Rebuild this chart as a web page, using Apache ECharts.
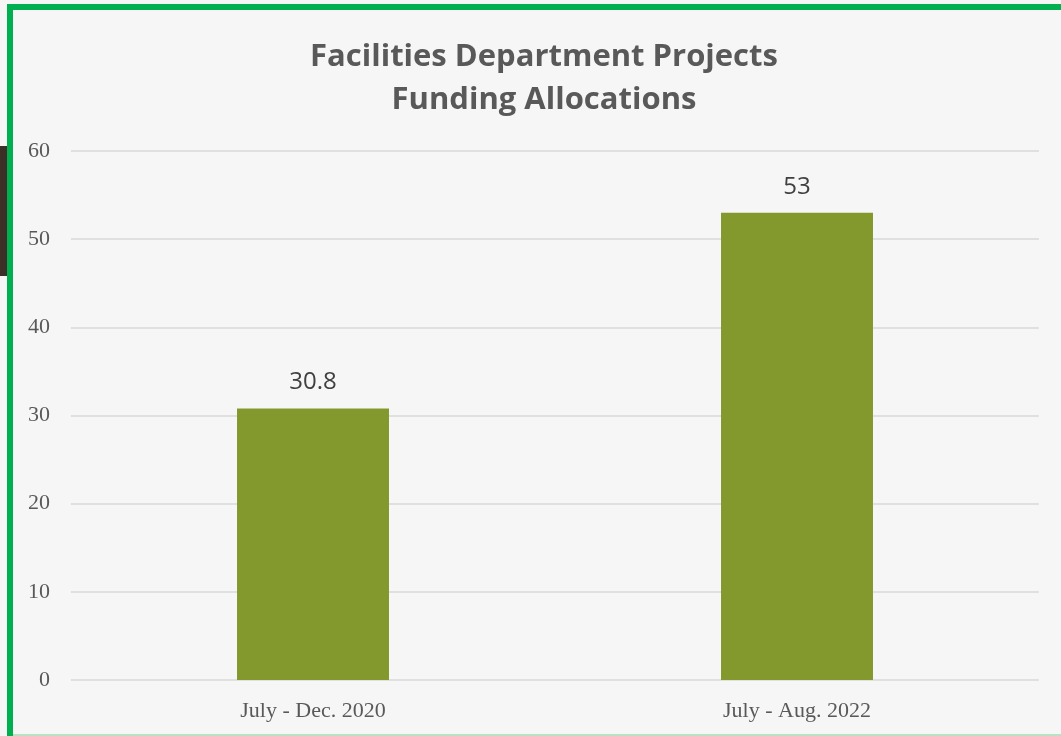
<!DOCTYPE html>
<html>
<head>
<meta charset="utf-8">
<script src="https://cdn.jsdelivr.net/npm/echarts@6/dist/echarts.min.js"></script>
<style>
  body { margin: 0; background: #f6f6f6; overflow: hidden; }
  #main { position: absolute; left: 0; top: 0; width: 1061px; height: 736px; }
  #frame { position: absolute; left: 7px; top: 4px; width: 1070px; height: 740px;
           border: 6px solid #00b050; pointer-events: none; box-sizing: border-box; }
  #bottomline { position: absolute; left: 13px; top: 734px; width: 1048px; height: 2px; background: #b5e3c4; }
  #strip { position: absolute; left: 0; top: 146px; width: 7px; height: 130px; background: #3b2f26; }
</style>
</head>
<body>
<div id="main"></div>
<div id="strip"></div>
<div id="frame"></div>
<div id="bottomline"></div>
<script>
var categories = ["July - Dec. 2020", "July - Aug. 2022"];
var funding = [30.8, 53];
var titleLines = ["Facilities Department Projects", "Funding Allocations"];

var myChart = echarts.init(document.getElementById("main"));
var option = {
    backgroundColor: '#f6f6f6',
    title: {
        text: titleLines.join('\n'),
        left: 539,
        top: 31,
        textAlign: 'center',
        textStyle: {
            fontFamily: 'Open Sans',
            fontWeight: 'bold',
            fontSize: 31,
            lineHeight: 43,
            color: '#595959'
        }
    },
    grid: {
        left: 71,
        right: 22,
        top: 151,
        bottom: 56
    },
    xAxis: {
        type: 'category',
        data: categories,
        axisLine: { show: false },
        axisTick: { show: false },
        axisLabel: {
            margin: 20,
            fontFamily: 'Liberation Serif',
            fontSize: 22,
            color: '#595959'
        }
    },
    yAxis: {
        type: 'value',
        min: 0,
        max: 60,
        interval: 10,
        axisLine: { show: false },
        axisTick: { show: false },
        axisLabel: {
            margin: 21,
            fontFamily: 'Liberation Serif',
            fontSize: 22,
            color: '#595959'
        },
        splitLine: {
            lineStyle: { color: '#d9d9d9', width: 1.5 }
        }
    },
    series: [{
        type: 'bar',
        data: funding,
        barWidth: '31.4%',
        itemStyle: { color: '#83992e' },
        label: {
            show: true,
            position: 'top',
            distance: 14,
            fontFamily: 'Open Sans',
            fontSize: 24,
            color: '#404040'
        }
    }]
};
myChart.setOption(option);
</script>
</body>
</html>
